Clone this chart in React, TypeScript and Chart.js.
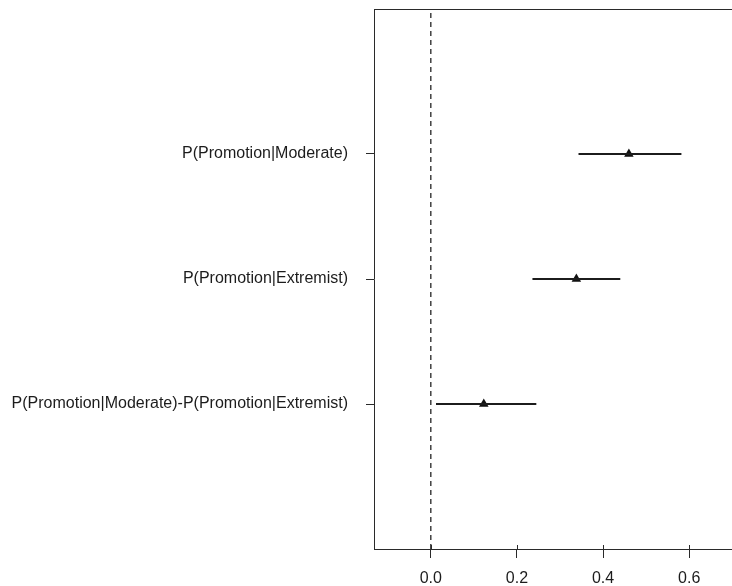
import { useEffect, useRef } from "react";
import { Chart, registerables } from "chart.js";

Chart.register(...registerables);

const categories = [
  "P(Promotion|Moderate)",
  "P(Promotion|Extremist)",
  "P(Promotion|Moderate)-P(Promotion|Extremist)",
];
const categoryPositions = [3, 2, 1];
const estimates = [0.46, 0.338, 0.123];
const lowerBounds = [0.343, 0.236, 0.012];
const upperBounds = [0.582, 0.44, 0.245];
const xTicks = [0, 0.2, 0.4, 0.6];
const xTickLabels = ["0.0", "0.2", "0.4", "0.6"];
const xRange = [-0.132, 0.732];
const yRange = [-0.16, 4.16];
const referenceValue = 0;

const INK = "#1c1c1c";
const AXIS = "#2a2a2a";
const FONT = "'Liberation Sans', Arial, sans-serif";

const boxPlugin = {
  id: "boxPlugin",
  afterDraw(chart: any) {
    const { ctx, chartArea } = chart;
    const xs = chart.scales.x;
    ctx.save();
    ctx.strokeStyle = AXIS;
    ctx.lineWidth = 1;
    ctx.beginPath();
    const top = Math.round(chartArea.top) + 0.5;
    ctx.moveTo(chartArea.left, top);
    ctx.lineTo(chartArea.right, top);
    const bottom = Math.round(chartArea.bottom);
    xs.ticks.forEach((t: any) => {
      const px = Math.round(xs.getPixelForValue(t.value)) + 0.5;
      ctx.moveTo(px, bottom - 4);
      ctx.lineTo(px, bottom);
    });
    ctx.stroke();
    ctx.restore();
  },
};

export default function App() {
  const ref = useRef<HTMLCanvasElement | null>(null);

  useEffect(() => {
    if (!ref.current) return;
    const datasets: any[] = [];
    datasets.push({
      data: [
        { x: referenceValue, y: yRange[0] },
        { x: referenceValue, y: yRange[1] },
      ],
      showLine: true,
      borderColor: "#111111",
      borderWidth: 1.2,
      borderDash: [5, 4],
      pointRadius: 0,
    });
    categoryPositions.forEach((pos, i) => {
      datasets.push({
        data: [
          { x: lowerBounds[i], y: pos },
          { x: upperBounds[i], y: pos },
        ],
        showLine: true,
        borderColor: INK,
        borderWidth: 2,
        pointRadius: 0,
      });
    });
    datasets.push({
      data: categoryPositions.map((pos, i) => ({ x: estimates[i], y: pos })),
      showLine: false,
      pointStyle: "triangle",
      pointRadius: 5.5,
      backgroundColor: "#111111",
      borderColor: "#111111",
      borderWidth: 0,
    });

    const chart = new Chart(ref.current, {
      type: "scatter",
      data: { datasets },
      plugins: [boxPlugin],
      options: {
        animation: false,
        responsive: false,
        events: [],
        layout: { padding: { top: 9, right: 14, left: 0, bottom: 0 } },
        plugins: { legend: { display: false }, tooltip: { enabled: false } },
        scales: {
          x: {
            type: "linear",
            min: xRange[0],
            max: xRange[1],
            afterBuildTicks: (s: any) => {
              s.ticks = xTicks.map((v) => ({ value: v }));
            },
            afterFit: (s: any) => {
              s.height = 37;
              s.paddingLeft = 0;
              s.paddingRight = 0;
            },
            ticks: {
              autoSkip: false,
              maxRotation: 0,
              padding: 11,
              color: INK,
              font: { family: FONT, size: 16 },
              callback: (v: any) => {
                const idx = xTicks.indexOf(Number(v));
                return idx >= 0 ? xTickLabels[idx] : "";
              },
            },
            grid: { drawOnChartArea: false, drawTicks: true, tickLength: 9, color: AXIS },
            border: { display: true, color: AXIS, width: 1 },
          },
          y: {
            type: "linear",
            min: yRange[0],
            max: yRange[1],
            afterBuildTicks: (s: any) => {
              s.ticks = categoryPositions.map((v) => ({ value: v }));
            },
            afterFit: (s: any) => {
              s.width = 374;
              s.paddingTop = 0;
              s.paddingBottom = 0;
            },
            ticks: {
              autoSkip: false,
              padding: 18,
              color: INK,
              font: { family: FONT, size: 16 },
              callback: (v: any) => {
                const idx = categoryPositions.indexOf(Number(v));
                return idx >= 0 ? categories[idx] : "";
              },
            },
            grid: { drawOnChartArea: false, drawTicks: true, tickLength: 8, color: AXIS },
            border: { display: true, color: AXIS, width: 1 },
          },
        },
      },
    });
    return () => chart.destroy();
  }, []);

  return (
    <div
      style={{
        position: "fixed",
        top: 0,
        left: 0,
        width: 732,
        height: 586,
        overflow: "hidden",
        background: "#ffffff",
      }}
    >
      <canvas ref={ref} width={760} height={586} style={{ width: 760, height: 586 }} />
    </div>
  );
}
